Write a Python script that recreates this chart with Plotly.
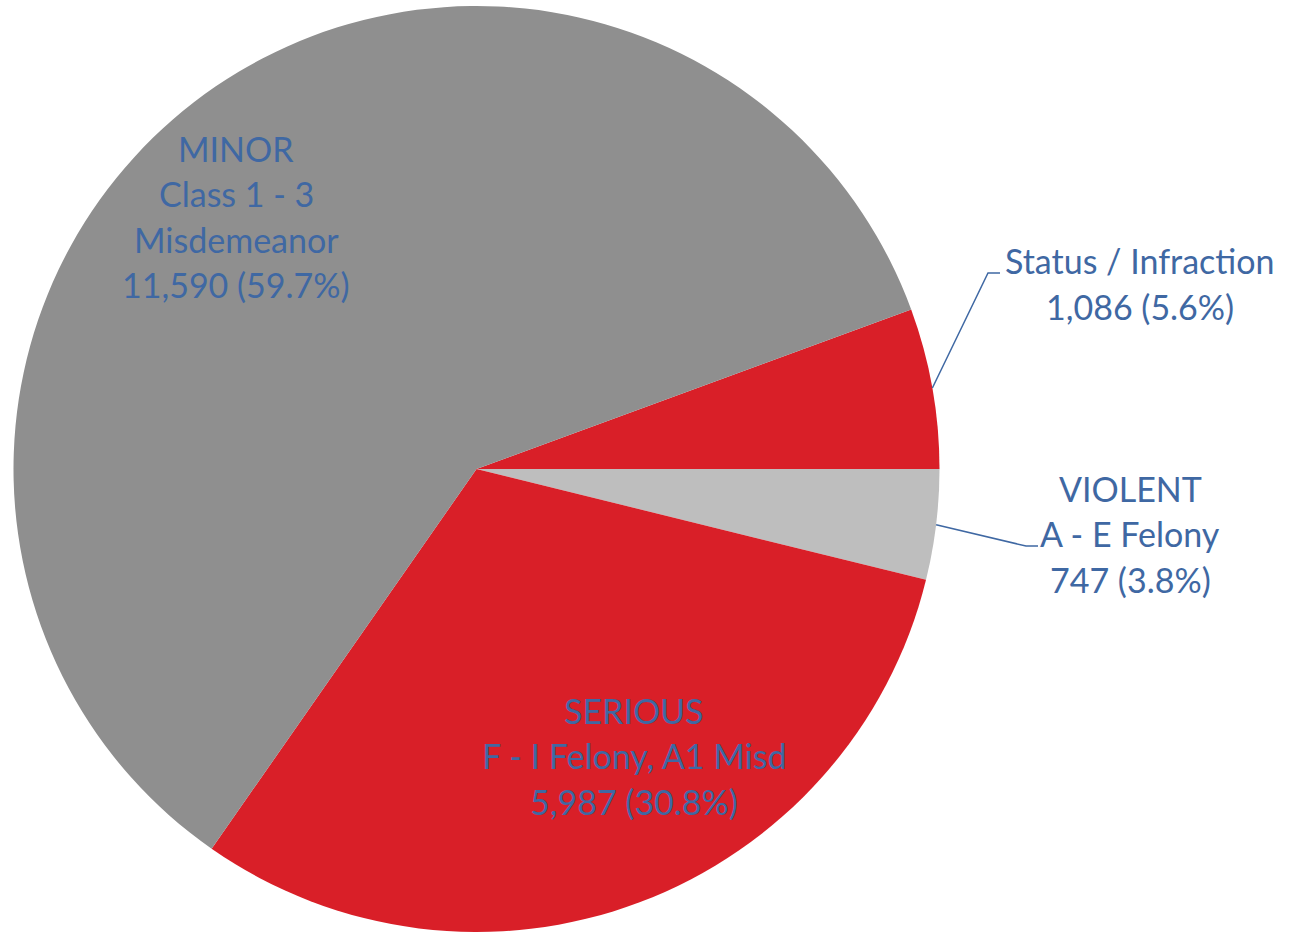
import math
import plotly.graph_objects as go

# Offence categories and counts
categories = ["Status / Infraction", "VIOLENT", "SERIOUS", "MINOR"]
subtitles = ["", "A - E Felony", "F - I Felony, A1 Misd", "Class 1 - 3<br>Misdemeanor"]
counts = [1086, 747, 5987, 11590]
colors = ["#D91F28", "#BEBEBE", "#D91F28", "#8F8F8F"]

W, H = 1292, 932
TEXT = "#3F68A3"
FONT = "Lato"
FS = 34

total = sum(counts)
shares = [c / total for c in counts]

# First slice ends exactly at 3 o'clock, slices run clockwise
rotation = 90 - 360 * shares[0]

# Pie geometry in pixels
cx, cy, r = 476.5, 469.0, 463.0
dom_x = [(cx - r) / W, (cx + r) / W]
dom_y = [max(0.0, 1 - (cy + r) / H), 1 - (cy - r) / H]

fig = go.Figure(go.Pie(
    labels=categories,
    values=counts,
    sort=False,
    direction="clockwise",
    rotation=rotation,
    marker=dict(colors=colors, line=dict(width=0)),
    textinfo="none",
    hoverinfo="label+value+percent",
    showlegend=False,
    domain=dict(x=dom_x, y=dom_y),
))


def label_lines(i):
    lines = [categories[i]]
    if subtitles[i]:
        lines += subtitles[i].split("<br>")
    lines.append(f"{counts[i]:,} ({shares[i] * 100:.1f}%)")
    return lines


# label block centre x and first-line centre y (pixels), line step
label_pos = {
    0: (1140, 261),
    1: (1130, 488),
    2: (634, 710),
    3: (236, 148),
}
STEP = 45.5

annotations = []
for i, (lx, ly) in label_pos.items():
    for k, line in enumerate(label_lines(i)):
        annotations.append(dict(
            x=lx / W, y=1 - (ly + k * STEP) / H,
            xref="paper", yref="paper",
            text=line, showarrow=False,
            xanchor="center", yanchor="middle",
            font=dict(family=FONT, size=FS, color=TEXT),
        ))

# Leader lines from slice mid-angle on the rim to the outside labels
start_angles = []
acc = 90 - rotation
for s in shares:
    start_angles.append(acc)
    acc -= 360 * s
leader_ends = {0: ((988, 273), (1000, 273)), 1: ((1026, 546), (1038, 546))}
shapes = []
for i, (elbow, end) in leader_ends.items():
    mid = math.radians(start_angles[i] - 180 * shares[i])
    sx = cx + r * math.cos(mid)
    sy = cy - r * math.sin(mid)
    path = (f"M {sx / W},{1 - sy / H} L {elbow[0] / W},{1 - elbow[1] / H} "
            f"L {end[0] / W},{1 - end[1] / H}")
    shapes.append(dict(type="path", path=path, xref="paper", yref="paper",
                       line=dict(color=TEXT, width=1.5)))

fig.update_layout(
    width=W, height=H,
    margin=dict(l=0, r=0, t=0, b=0),
    paper_bgcolor="white",
    plot_bgcolor="white",
    annotations=annotations,
    shapes=shapes,
)

fig.write_html("out.html")
